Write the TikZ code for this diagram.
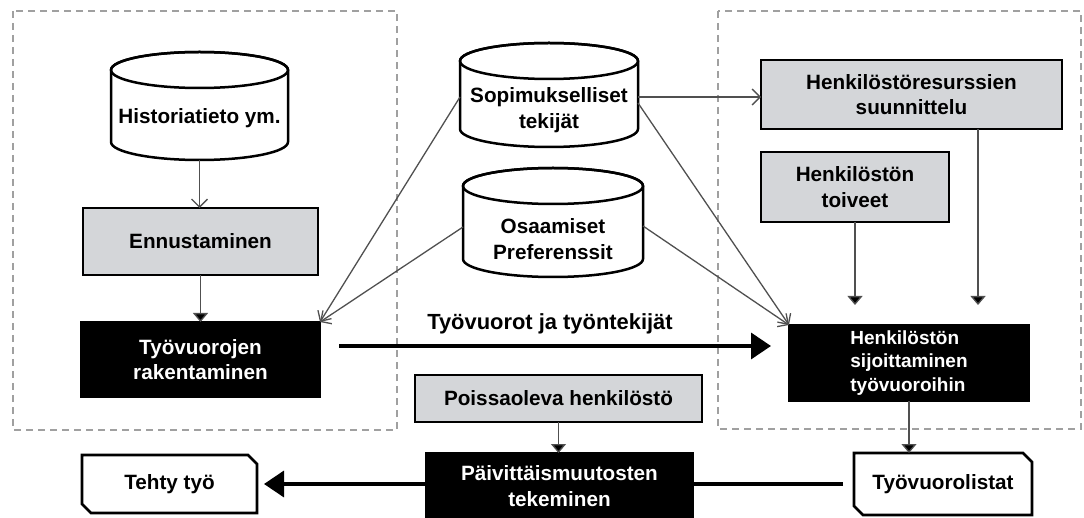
\documentclass[tikz,border=0pt]{standalone}
\usepackage{fontspec}
\setmainfont{Liberation Sans}
\usetikzlibrary{arrows.meta,calc}
\definecolor{boxgray}{RGB}{212,214,217}
\definecolor{dashgray}{RGB}{160,160,160}
\definecolor{linegray}{RGB}{80,80,80}
\newcommand{\drawcyl}[5]{%
  \pgfmathsetmacro{\cylcx}{(#1+#2)/2}%
  \pgfmathsetmacro{\cylrx}{(#2-#1)/2}%
  \pgfmathsetmacro{\cylyt}{#3+#5}%
  \pgfmathsetmacro{\cylyb}{#4-#5}%
  \draw[cylline] (#1,\cylyt) -- (#1,\cylyb) arc[start angle=180,end angle=360,x radius=\cylrx pt,y radius=#5 pt] -- (#2,\cylyt) arc[start angle=0,end angle=180,x radius=\cylrx pt,y radius=#5 pt] -- cycle;
  \draw[cylline,fill=none] (\cylcx,\cylyt) ellipse[x radius=\cylrx pt,y radius=#5 pt];
}
\newcommand{\chamfer}[1]{%
  \draw[cutline] (#1.north west) -- ([xshift=-9pt]#1.north east) -- ([yshift=-9pt]#1.north east) -- (#1.south east) -- ([xshift=9pt]#1.south west) -- ([yshift=9pt]#1.south west) -- cycle;
}
\begin{document}
\begin{tikzpicture}[x=1pt,y=-1pt,
  txt/.style={font=\bfseries\fontsize{20.7}{25.5}\selectfont, align=center, inner sep=0pt, outer sep=0pt},
  graybox/.style={txt, draw=black, line width=2.8pt, fill=boxgray},
  blackbox/.style={txt, draw=black, line width=2.8pt, fill=black, text=white},
  cylline/.style={draw=black, line width=2.5pt, fill=white},
  cutline/.style={draw=black, line width=2.6pt, line join=miter},
  dashbox/.style={draw=dashgray, line width=1.5pt, dash pattern=on 7pt off 5pt},
  thinline/.style={draw=linegray, line width=1.3pt},
  openarrow/.style={thinline, -{Straight Barb[length=8pt,width=16pt,line width=1.3pt]}},
  fillarrow/.style={thinline, -{Triangle[length=9pt,width=15pt,fill=black]}},
  bigarrow/.style={draw=black, line width=3.5pt, -{Triangle[length=20pt,width=26pt]}},
  bigline/.style={draw=black, line width=3.5pt}
]
\useasboundingbox (0,0) rectangle (1084,518);

% dashed groups
\draw[dashbox] (13,11) rectangle (397,430);
\draw[dashbox] (718,11) rectangle (1081,429);

% cylinders
\drawcyl{111}{288}{52}{160}{18}
\drawcyl{460}{638}{43}{147}{18}
\drawcyl{463}{643}{168}{277}{18}
\node[txt, minimum width=177pt, minimum height=84pt] (hist) at (199.5,118) {Historiatieto ym.};
\node[txt, minimum width=178pt, minimum height=74pt] (sop) at (549,110) {Sopimukselliset\\tekijät};
\node[txt, minimum width=180pt, minimum height=76pt] (osa) at (553,239) {Osaamiset\\Preferenssit};

% boxes
\node[graybox, minimum width=235pt, minimum height=67pt] (enn) at (200.5,241.5) {Ennustaminen};
\node[blackbox, minimum width=239pt, minimum height=75pt] (tyo) at (200.5,359.5) {Työvuorojen\\rakentaminen};
\node[graybox, minimum width=301pt, minimum height=69pt] (hr) at (911.5,94.5) {Henkilöstöresurssien\\suunnittelu};
\node[graybox, minimum width=188pt, minimum height=70pt] (toiv) at (855,187) {Henkilöstön\\toiveet};
\node[blackbox, minimum width=240pt, minimum height=76pt, align=left, font=\bfseries\fontsize{19}{23.5}\selectfont] (sij) at (909,363) {Henkilöstön\\sijoittaminen\\työvuoroihin};
\node[graybox, minimum width=287pt, minimum height=47pt] (poi) at (558.5,398.5) {Poissaoleva henkilöstö};
\node[blackbox, minimum width=267pt, minimum height=66pt] (paiv) at (559.5,486) {Päivittäismuutosten\\tekeminen};
\node[txt, minimum width=175pt, minimum height=58pt] (tehty) at (169.5,484) {Tehty työ};
\chamfer{tehty}
\node[txt, minimum width=178pt, minimum height=62pt] (tvl) at (943,484) {Työvuorolistat};
\chamfer{tvl}

% connectors
\draw[openarrow] (hist.south) -- (hist.south |- enn.north);
\draw[fillarrow] (enn.south) -- (tyo.north);
\draw[openarrow] ([yshift=13pt]sop.west) -- (tyo.north east);
\draw[openarrow] ([yshift=12pt]osa.west) -- (tyo.north east);
\draw[openarrow] ([yshift=13pt]sop.east) -- ([yshift=13pt]sop.east -| hr.west);
\draw[openarrow] ([yshift=7pt]sop.east) -- (sij.north west);
\draw[openarrow] ([yshift=13pt]osa.east) -- (sij.north west);
\draw[fillarrow, shorten >=20pt] (toiv.south) -- (toiv.south |- sij.north);
\coordinate (hrb) at ($(hr.south west)!0.721!(hr.south east)$);
\draw[fillarrow, shorten >=20pt] (hrb) -- (hrb |- sij.north);
\draw[bigarrow] ($(tyo.north east)+(19,24)$) -- ($(sij.north west)+(-18,21)$)
  node[txt, font=\bfseries\fontsize{21.9}{26}\selectfont, midway, yshift=22pt, xshift=-5pt] {Työvuorot ja työntekijät};
\draw[fillarrow] (sij.south) -- (sij.south |- tvl.north);
\draw[fillarrow] (poi.south) -- (poi.south |- paiv.north);
\draw[bigarrow, shorten >=7pt] (paiv.west |- tehty.east) -- (tehty.east);
\draw[bigline, shorten <=11pt] (tvl.west) -- (tvl.west -| paiv.east);
\end{tikzpicture}
\end{document}
